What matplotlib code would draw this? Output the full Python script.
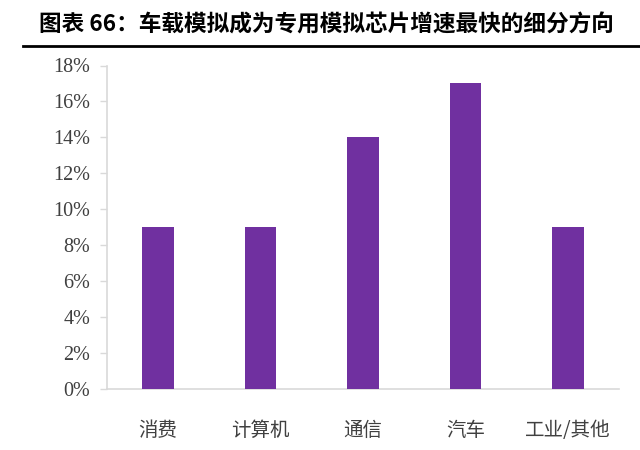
import matplotlib
matplotlib.use("Agg")
import matplotlib.pyplot as plt
from matplotlib.lines import Line2D
from matplotlib.ticker import FuncFormatter

categories = ["消费", "计算机", "通信", "汽车", "工业/其他"]
values = [9, 9, 14, 17, 9]
yticks = [0, 2, 4, 6, 8, 10, 12, 14, 16, 18]
title = "图表 66：车载模拟成为专用模拟芯片增速最快的细分方向"

plt.rcParams['font.family'] = ['Noto Sans CJK SC', 'DejaVu Sans']

fig = plt.figure(figsize=(6.4, 4.5), dpi=100)
ax = fig.add_axes([107/640, 1-389/450, (619-107)/640, (389-65.5)/450])

x = range(len(categories))
ax.bar(x, values, width=0.31, color="#7030A0", zorder=3)

ax.set_xlim(-0.5, len(categories) - 0.5)
ax.set_ylim(0, 18)
ax.set_yticks(yticks)
ax.yaxis.set_major_formatter(FuncFormatter(lambda v, p: f"{int(v)}%"))
for lbl in ax.get_yticklabels():
    lbl.set_fontfamily(['Liberation Serif'])
    lbl.set_fontsize(14.5)
    lbl.set_color("#404040")
ax.tick_params(axis='y', length=5, width=1, color="#D9D9D9", pad=7)

ax.set_xticks(list(x))
ax.set_xticklabels(categories, fontsize=14, color="#404040")
ax.tick_params(axis='x', length=0, pad=22)

for s in ["top", "right"]:
    ax.spines[s].set_visible(False)
for s in ["left", "bottom"]:
    ax.spines[s].set_color("#D9D9D9")
    ax.spines[s].set_linewidth(1.2)

fig.text(39/640, 1-25/450, title, fontsize=16.3, fontweight='bold',
         color="black", ha='left', va='center')
fig.add_artist(Line2D([23/640, 1.0], [1-46/450, 1-46/450], color="black",
                      linewidth=2, transform=fig.transFigure))

fig.savefig("out.png", dpi=100)
